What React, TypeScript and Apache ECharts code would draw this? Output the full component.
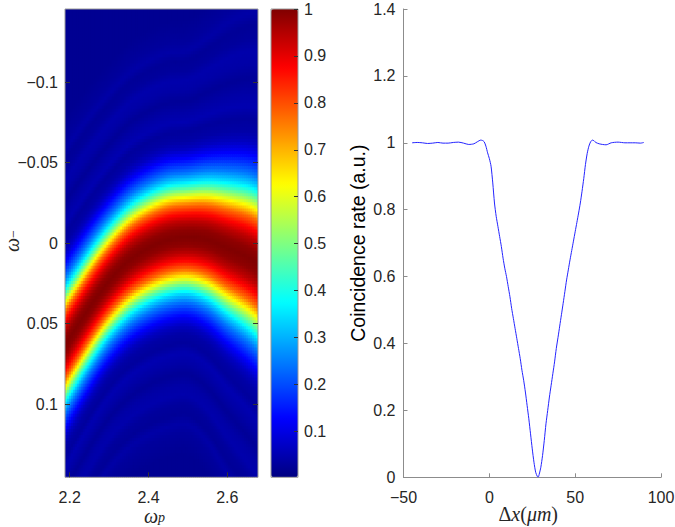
import React, { useEffect, useRef } from 'react';
import * as echarts from 'echarts';

// ---------- left panel: joint spectral intensity ----------
const OMEGA_P_MIN = 2.188;
const OMEGA_P_MAX = 2.678;
const OMEGA_M_LIMIT = 0.1453;
const OMEGA_P_TICKS = [2.2, 2.4, 2.6];
const OMEGA_M_TICKS = [-0.1, -0.05, 0, 0.05, 0.1];
const COLORBAR_TICKS = [0.1, 0.2, 0.3, 0.4, 0.5, 0.6, 0.7, 0.8, 0.9, 1];
const COLORBAR_MIN = 0.002;
const COLORBAR_MAX = 1;

// ridge (centre of the red band) in omega_- at several omega_p positions
const RIDGE_OMEGA_P = [2.188, 2.25, 2.3, 2.35, 2.4, 2.45, 2.5, 2.55, 2.6, 2.65, 2.678];
const RIDGE_CENTER = [0.0635, 0.04, 0.0235, 0.011, 0.003, -0.002, -0.0035, -0.002, 0.003, 0.0085, 0.013];
const RIDGE_WIDTH = [1.05, 1.02, 1.0, 1.0, 1.0, 1.0, 1.0, 1.08, 1.2, 1.3, 1.35];

// cross-section of the band: distance from ridge (omega_-) -> intensity
const PROFILE_OFFSET = [0, 0.005, 0.01, 0.015, 0.02, 0.025, 0.03, 0.035, 0.04, 0.045, 0.05, 0.055, 0.06, 0.066, 0.072, 0.078, 0.085, 0.092, 0.098, 0.104, 0.11, 0.116, 0.122, 0.135, 0.3];
const PROFILE_VALUE = [1.0, 0.985, 0.94, 0.865, 0.77, 0.62, 0.47, 0.34, 0.245, 0.175, 0.115, 0.065, 0.04, 0.03, 0.05, 0.04, 0.025, 0.04, 0.045, 0.03, 0.025, 0.04, 0.03, 0.02, 0.02];

const JET = ['#000080', '#0000ff', '#0080ff', '#00ffff', '#80ff80', '#ffff00', '#ff8000', '#ff0000', '#800000'];

// ---------- right panel: coincidence rate vs delay ----------
const DX_VALUES = [
  -45, -42, -39, -36, -33, -30, -27, -24, -21, -18, -15, -12, -9, -7, -5, -4, -3, -2, -1,
  0, 1, 2, 3, 4, 5, 6, 7, 8, 9, 10, 11, 12, 13, 14, 15, 16, 17, 18, 19, 20, 21, 22, 23, 24,
  25, 26, 27, 28, 28.5, 29, 30, 31, 32, 33, 34, 35, 36, 37, 38, 39, 40, 41, 42, 43, 44, 45,
  46, 47, 48, 49, 50, 51, 52, 53, 54, 55, 56, 57, 58, 59, 60, 61, 62, 64, 66, 68, 71, 75,
  79, 82, 85, 88, 90,
];
const RATE_VALUES = [
  1.0, 1.001, 1.0, 0.998, 0.999, 1.001, 0.999, 0.999, 1.001, 1.002, 0.999, 0.995, 0.997, 1.003, 1.008, 1.007, 1.003, 0.99, 0.97,
  0.953, 0.93, 0.88, 0.82, 0.78, 0.75, 0.72, 0.69, 0.655, 0.625, 0.6, 0.57, 0.54, 0.505, 0.475, 0.445, 0.415, 0.385, 0.355, 0.32, 0.29, 0.255, 0.215, 0.175, 0.13,
  0.085, 0.045, 0.015, 0.002, 0.001, 0.008, 0.03, 0.065, 0.11, 0.16, 0.2, 0.24, 0.275, 0.31, 0.345, 0.385, 0.418, 0.452, 0.486, 0.52, 0.555, 0.59,
  0.62, 0.65, 0.678, 0.706, 0.734, 0.762, 0.79, 0.82, 0.855, 0.893, 0.935, 0.968, 0.99, 1.003, 1.008, 1.006, 1.001, 0.997, 0.995, 0.994, 1.0, 1.002,
  1.0, 1.0, 1.0, 0.999, 1.001,
];

const NX = 98;
const NY = 155;

function lerp(xs: number[], ys: number[], x: number): number {
  if (x <= xs[0]) return ys[0];
  for (let i = 1; i < xs.length; i++) {
    if (x <= xs[i]) {
      const t = (x - xs[i - 1]) / (xs[i] - xs[i - 1]);
      return ys[i - 1] + t * (ys[i] - ys[i - 1]);
    }
  }
  return ys[ys.length - 1];
}

// smooth (Catmull-Rom) curve through the read knots
function spline(xs: number[], ys: number[], x: number): number {
  const n = xs.length;
  if (x <= xs[0]) return ys[0];
  if (x >= xs[n - 1]) return ys[n - 1];
  let i = 1;
  while (x > xs[i]) i++;
  const i0 = i - 1;
  const h = xs[i] - xs[i0];
  const t = (x - xs[i0]) / h;
  const m = (k: number) => {
    if (k === 0) return (ys[1] - ys[0]) / (xs[1] - xs[0]);
    if (k === n - 1) return (ys[n - 1] - ys[n - 2]) / (xs[n - 1] - xs[n - 2]);
    return (ys[k + 1] - ys[k - 1]) / (xs[k + 1] - xs[k - 1]);
  };
  const t2 = t * t;
  const t3 = t2 * t;
  return (2 * t3 - 3 * t2 + 1) * ys[i0] + (t3 - 2 * t2 + t) * h * m(i0) + (-2 * t3 + 3 * t2) * ys[i] + (t3 - t2) * h * m(i);
}

const CELL_W = (OMEGA_P_MAX - OMEGA_P_MIN) / NX;
const CELL_H = (2 * OMEGA_M_LIMIT) / NY;

function buildHeat(): number[][] {
  const out: number[][] = [];
  for (let i = 0; i < NX; i++) {
    const x = OMEGA_P_MIN + (i + 0.5) * CELL_W;
    const c = spline(RIDGE_OMEGA_P, RIDGE_CENTER, x);
    const s = spline(RIDGE_OMEGA_P, RIDGE_WIDTH, x);
    for (let j = 0; j < NY; j++) {
      const y = -OMEGA_M_LIMIT + (j + 0.5) * CELL_H;
      const d = Math.abs(y - c) / s;
      out.push([x, y, lerp(PROFILE_OFFSET, PROFILE_VALUE, d)]);
    }
  }
  return out;
}

const LABEL_COLOR = '#262626';
const SANS = 'Liberation Sans, Arial, Helvetica, sans-serif';
const SERIF = 'Liberation Serif, DejaVu Serif, serif';

const minus = (s: string) => s.replace('-', '\u2212');

export default function App() {
  const ref = useRef<HTMLDivElement>(null);
  useEffect(() => {
    if (!ref.current) return;
    const chart = echarts.init(ref.current, null, { renderer: 'svg' });
    const heat = buildHeat();
    const lineData = DX_VALUES.map((x, i) => [x, RATE_VALUES[i]]);

    const tickStyle = { color: '#333', width: 1 };
    const gridBase = { containLabel: false, outerBoundsMode: 'none' };
    const option: any = {
      animation: false,
      backgroundColor: '#ffffff',
      grid: [
        { ...gridBase, left: 65, top: 9, width: 193, height: 468.3, show: true, borderColor: '#9a9a9a', borderWidth: 1, backgroundColor: 'transparent', z: 10 },
        { ...gridBase, left: 271, top: 9, width: 27, height: 468.3, show: true, borderColor: '#9a9a9a', borderWidth: 1, backgroundColor: 'transparent', z: 10 },
        { ...gridBase, left: 403.5, top: 9, width: 257.5, height: 468.3 },
      ],
      visualMap: {
        type: 'continuous',
        min: COLORBAR_MIN,
        max: COLORBAR_MAX,
        dimension: 2,
        seriesIndex: 0,
        show: true,
        calculable: false,
        hoverLink: false,
        left: 271,
        top: 9,
        itemWidth: 27,
        itemHeight: 468.3,
        padding: 0,
        inRange: { color: JET },
      },
      graphic: [
        {
          type: 'text',
          x: 12,
          y: 241,
          rotation: Math.PI / 2,
          silent: true,
          style: {
            text: '{w|ω}{s|−}',
            align: 'center',
            verticalAlign: 'middle',
            rich: {
              w: { fontFamily: SERIF, fontStyle: 'italic', fontSize: 20, fill: LABEL_COLOR, lineHeight: 16 },
              s: { fontFamily: SERIF, fontSize: 14, fill: LABEL_COLOR, lineHeight: 10, verticalAlign: 'bottom' },
            },
          },
        },
      ],
      xAxis: [
        {
          gridIndex: 0, type: 'value', min: OMEGA_P_MIN, max: OMEGA_P_MAX, z: 10,
          axisLine: { show: false, onZero: false }, splitLine: { show: false },
          axisTick: { show: true, inside: true, length: 5, lineStyle: tickStyle, customValues: OMEGA_P_TICKS },
          axisLabel: { customValues: OMEGA_P_TICKS, margin: 13, lineHeight: 14, fontSize: 16, fontFamily: SANS, color: LABEL_COLOR, formatter: (v: number) => v.toFixed(1) },
          name: '{w|ω}{s|p}', nameLocation: 'middle', nameGap: 31, nameMoveOverlap: false,
          nameTextStyle: {
            padding: [0, 14, 0, 0],
            rich: {
              w: { fontFamily: SERIF, fontStyle: 'italic', fontSize: 20, color: LABEL_COLOR, lineHeight: 16 },
              s: { fontFamily: SERIF, fontStyle: 'italic', fontSize: 14, color: LABEL_COLOR, lineHeight: 10, verticalAlign: 'bottom' },
            },
          },
        },
        { gridIndex: 1, type: 'value', min: 0, max: 1, show: false },
        {
          gridIndex: 2, type: 'value', min: -50, max: 100, interval: 50,
          axisLine: { show: true, onZero: false, lineStyle: { color: '#8c8c8c', width: 1 } },
          splitLine: { show: false },
          axisTick: { show: true, inside: true, length: 4, lineStyle: { color: '#8c8c8c' } },
          axisLabel: { margin: 13, lineHeight: 14, fontSize: 16, fontFamily: SANS, color: LABEL_COLOR, formatter: (v: number) => minus(String(v)) },
          name: '{u|Δ}{i|x}{u|(}{i|μm}{u|)}', nameLocation: 'middle', nameGap: 28, nameMoveOverlap: false,
          nameTextStyle: {
            padding: [0, 8, 0, 0],
            rich: {
              u: { fontFamily: SERIF, fontSize: 20, color: LABEL_COLOR, lineHeight: 18 },
              i: { fontFamily: SERIF, fontStyle: 'italic', fontSize: 20, color: LABEL_COLOR, lineHeight: 18 },
            },
          },
        },
      ],
      yAxis: [
        {
          gridIndex: 0, type: 'value', inverse: true, min: -OMEGA_M_LIMIT, max: OMEGA_M_LIMIT, z: 10,
          axisLine: { show: false, onZero: false }, splitLine: { show: false },
          axisTick: { show: true, inside: true, length: 5, lineStyle: tickStyle, customValues: OMEGA_M_TICKS },
          axisLabel: { customValues: OMEGA_M_TICKS, margin: 7, fontSize: 16, fontFamily: SANS, color: LABEL_COLOR, formatter: (v: number) => minus(String(v)) },
        },
        {
          gridIndex: 0, type: 'value', inverse: true, min: -OMEGA_M_LIMIT, max: OMEGA_M_LIMIT, position: 'right', z: 10,
          axisLine: { show: false, onZero: false }, splitLine: { show: false },
          axisTick: { show: true, inside: true, length: 5, lineStyle: tickStyle, customValues: OMEGA_M_TICKS },
          axisLabel: { show: false },
        },
        {
          gridIndex: 1, type: 'value', min: COLORBAR_MIN, max: COLORBAR_MAX, position: 'right', z: 10,
          axisLine: { show: false, onZero: false }, splitLine: { show: false },
          axisTick: { show: true, inside: true, length: 4, lineStyle: tickStyle, customValues: COLORBAR_TICKS },
          axisLabel: { customValues: COLORBAR_TICKS, margin: 6, fontSize: 16, fontFamily: SANS, color: LABEL_COLOR, formatter: (v: number) => String(v) },
        },
        {
          gridIndex: 2, type: 'value', min: 0, max: 1.4, interval: 0.2,
          axisLine: { show: true, onZero: false, lineStyle: { color: '#8c8c8c', width: 1 } },
          splitLine: { show: false },
          axisTick: { show: true, inside: true, length: 4, lineStyle: { color: '#8c8c8c' } },
          axisLabel: { margin: 8, fontSize: 16, fontFamily: SANS, color: LABEL_COLOR, formatter: (v: number) => String(+v.toFixed(1)) },
          name: 'Coincidence rate (a.u.)', nameLocation: 'middle', nameGap: 36, nameMoveOverlap: false,
          nameTextStyle: { fontFamily: SANS, fontSize: 19.5, color: '#000' },
        },
      ],
      series: [
        {
          type: 'custom',
          xAxisIndex: 0,
          yAxisIndex: 0,
          data: heat,
          encode: { x: 0, y: 1 },
          clip: true,
          silent: true,
          progressive: 0,
          progressiveThreshold: 1000000,
          z: 2,
          renderItem: (params: any, api: any) => {
            const x = api.value(0);
            const y = api.value(1);
            const a = api.coord([x - CELL_W / 2, y - CELL_H / 2]);
            const b = api.coord([x + CELL_W / 2, y + CELL_H / 2]);
            return {
              type: 'rect',
              shape: {
                x: Math.min(a[0], b[0]),
                y: Math.min(a[1], b[1]),
                width: Math.abs(b[0] - a[0]) + 1,
                height: Math.abs(b[1] - a[1]) + 1,
              },
              style: { fill: api.visual('color') },
            };
          },
        },
        {
          type: 'line',
          xAxisIndex: 2,
          yAxisIndex: 3,
          data: lineData,
          showSymbol: false,
          smooth: 0.25,
          lineStyle: { color: '#2424ff', width: 1 },
          silent: true,
        },
      ],
    };
    chart.setOption(option);
    return () => chart.dispose();
  }, []);

  return (
    <div
      ref={ref}
      style={{ position: 'fixed', left: 0, top: 0, width: 675, height: 527, background: '#fff' }}
    />
  );
}
